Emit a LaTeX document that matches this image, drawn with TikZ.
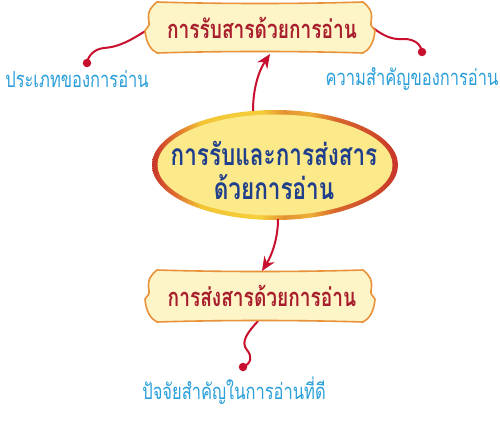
\documentclass[tikz,border=0pt]{standalone}
\usepackage{fontspec}
\usetikzlibrary{arrows.meta}
\newfontfamily\thaifont[Script=Thai,FakeStretch=0.75]{Loma}
\definecolor{labelblue}{HTML}{2A9FDA}
\definecolor{titlered}{HTML}{A81E2C}
\definecolor{centerblue}{HTML}{1F3E8C}
\definecolor{linkred}{HTML}{C8102E}
\definecolor{scrollfill}{HTML}{FDF4C8}
\definecolor{scrollline}{HTML}{E8923A}
\definecolor{ovalfill}{HTML}{FBE98A}
\definecolor{rA}{HTML}{C8352A}
\definecolor{rB}{HTML}{E0702E}
\definecolor{rC}{HTML}{F2C535}
\definecolor{rD}{HTML}{F5CF3A}
\definecolor{rE}{HTML}{E39030}
\definecolor{rF}{HTML}{EDB035}
\definecolor{rG}{HTML}{D9682C}
\definecolor{rH}{HTML}{CF4A2A}
\pgfdeclarehorizontalshading{ringshade}{100bp}{color(0bp)=(rA); color(25bp)=(rA); color(30bp)=(rB); color(35bp)=(rC); color(47bp)=(rD); color(52bp)=(rE); color(57bp)=(rF); color(62bp)=(rG); color(70bp)=(rH); color(75bp)=(rA); color(100bp)=(rA)}
\newcommand{\scrollbox}[4]{% cx, cy, w, h
  \begin{scope}[shift={(#1,#2)}]
  \pgfmathsetmacro{\sw}{#3}\pgfmathsetmacro{\sh}{#4}
  \draw[scrollstyle]
    ({-\sw+12},{-\sh}) .. controls ({-\sw/3},{-\sh+2}) and ({\sw/3},{-\sh+2}) .. ({\sw-12},{-\sh})
    .. controls ({\sw-6},{-\sh+5}) and ({\sw-2},{-\sh+9}) .. ({\sw-4},{-5})
    .. controls ({\sw-5},{-2}) and ({\sw-2},{0}) .. ({\sw},{3})
    .. controls ({\sw-1},{\sh-10}) and ({\sw-6},{\sh-3}) .. ({\sw-12},{\sh})
    .. controls ({\sw/3},{\sh-2}) and ({-\sw/3},{\sh-2}) .. ({-\sw+12},{\sh})
    .. controls ({-\sw+6},{\sh-3}) and ({-\sw+1},{\sh-10}) .. ({-\sw},{3})
    .. controls ({-\sw+2},{0}) and ({-\sw+5},{-2}) .. ({-\sw+4},{-5})
    .. controls ({-\sw+2},{-\sh+9}) and ({-\sw+6},{-\sh+5}) .. ({-\sw+12},{-\sh}) -- cycle;
  \end{scope}}
\tikzset{
  scrollstyle/.style={fill=scrollfill, draw=scrollline, line width=1.6pt, line join=round},
  titletext/.style={font=\thaifont\bfseries\fontsize{25.5}{28}\selectfont, text=titlered, inner sep=0pt},
  centertext/.style={font=\thaifont\bfseries\fontsize{30}{34}\selectfont, text=centerblue, align=center, inner sep=0pt},
  labeltext/.style={font=\thaifont\fontsize{22}{24}\selectfont, text=labelblue, inner sep=0pt},
  arrowlink/.style={draw=linkred, line width=2pt, -{Stealth[length=14pt,width=12pt]}},
  wavelink/.style={draw=linkred, line width=2pt, line cap=round},
  dotstyle/.style={fill=linkred, circle, inner sep=0pt, minimum size=8.5pt}
}
\begin{document}
\begin{tikzpicture}[x=1pt,y=-1pt]
\useasboundingbox[fill=white] (0,0) rectangle (500,425);

% connector stubs
\coordinate (tl) at (147,30);
\coordinate (tr) at (373,28);
\coordinate (bb) at (258,321);
\node[dotstyle] (dl) at (87,63) {};
\node[dotstyle] (dr) at (422,52) {};
\node[dotstyle] (db) at (243,367) {};
\draw[wavelink] (tl) .. controls (128,42) and (118,47) .. (104,48) .. controls (94,49) and (88,56) .. (dl.center);
\draw[wavelink] (tr) .. controls (384,36) and (392,40) .. (404,39) .. controls (414,39) and (421,44) .. (dr.center);
\draw[wavelink] (bb) .. controls (248,332) and (240,342) .. (247,350) .. controls (252,356) and (252,363) .. (db.center);

% scroll boxes
\scrollbox{260}{27.5}{115}{25.5}
\scrollbox{260}{296}{115}{26}

% central oval
\shade[shading=ringshade] (275,165) ellipse [x radius=123pt, y radius=55pt];
\fill[ovalfill] (275,165) ellipse [x radius=117.5pt, y radius=50.5pt];

% texts
\node[titletext] (top) at (262,28) {การรับสารด้วยการอ่าน};
\node[titletext] (bottom) at (262,296) {การส่งสารด้วยการอ่าน};
\node[centertext] (center) at (274,170) {การรับและการส่งสาร\\ด้วยการอ่าน};
\node[labeltext] (l1) at (77,79) {ประเภทของการอ่าน};
\node[labeltext] (l2) at (412,79) {ความสำคัญของการอ่าน};
\node[labeltext] (l3) at (234,391) {ปัจจัยสำคัญในการอ่านที่ดี};

% arrows
\coordinate (c1) at (253,111);
\coordinate (t1) at (270,54);
\coordinate (c2) at (278,219);
\coordinate (b1) at (262,271);
\draw[arrowlink] (c1) .. controls (253,90) and (258,72) .. (t1);
\draw[arrowlink] (c2) .. controls (278,238) and (272,255) .. (b1);
\end{tikzpicture}
\end{document}
